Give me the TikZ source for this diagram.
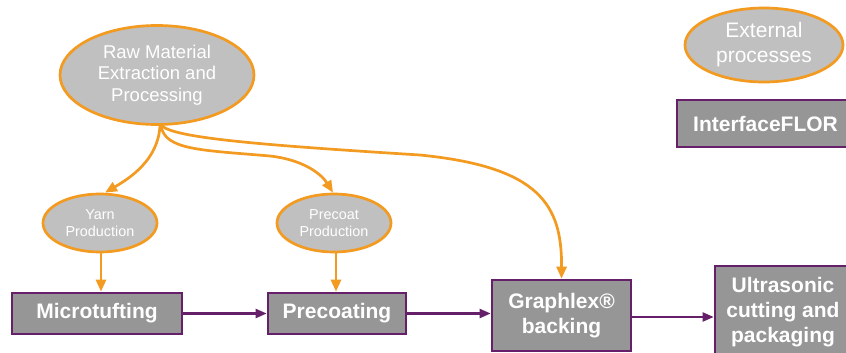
\documentclass[tikz,border=0pt]{standalone}
\usepackage{fontspec}
\setmainfont{Liberation Sans}
\usetikzlibrary{shapes.geometric,arrows.meta}
\definecolor{orng}{HTML}{F39A21}
\definecolor{purp}{HTML}{66206A}
\definecolor{elfill}{HTML}{C0C0C0}
\definecolor{boxfill}{HTML}{969696}
\tikzset{
  extproc/.style={ellipse, draw=orng, line width=2.7pt, fill=elfill, text=white, align=center, inner sep=0pt},
  procbox/.style={rectangle, draw=purp, line width=2.7pt, fill=boxfill, text=white, align=center, inner sep=0pt, font=\bfseries\fontsize{21}{25}\selectfont},
  oarrow/.style={draw=orng, line width=2.7pt, -{Triangle[length=12pt,width=10pt]}},
  parrow/.style={draw=purp, line width=2.2pt, -{Triangle[length=11pt,width=9pt]}}
}
\begin{document}
\begin{tikzpicture}[x=1pt,y=-1pt]
\clip (0,0) rectangle (846,353);
\fill[white] (0,0) rectangle (846,353);
% ellipses
\node[extproc, minimum width=194pt, minimum height=99pt, font=\fontsize{18.5}{21.7}\selectfont] (raw) at (157,75) {Raw Material\\Extraction and\\Processing};
\node[extproc, minimum width=158pt, minimum height=74pt, font=\fontsize{21}{25}\selectfont] (ext) at (764,45) {External\\processes};
\node[extproc, minimum width=114pt, minimum height=58pt, font=\fontsize{14.4}{16.7}\selectfont] (yarn) at (100,223) {Yarn\\Production};
\node[extproc, minimum width=114pt, minimum height=58pt, font=\fontsize{14.4}{16.7}\selectfont] (pcp) at (334,223) {Precoat\\Production};
% boxes
\node[procbox, minimum width=177pt, minimum height=47pt] (iflor) at (765.5,123.5) {InterfaceFLOR};
\node[procbox, minimum width=170pt, minimum height=41pt] (micro) at (97,313.5) {\raisebox{-1.5pt}{Microtufting}};
\node[procbox, minimum width=138pt, minimum height=41pt] (precoat) at (337,313.5) {\raisebox{-1.5pt}{Precoating}};
\node[procbox, minimum width=139pt, minimum height=71pt] (graph) at (561.5,315.5) {Graphlex®\\backing};
\node[procbox, minimum width=136pt, minimum height=92pt] (ultra) at (783,312) {Ultrasonic\\cutting and\\packaging};
% orange connectors
\draw[oarrow] ([xshift=3pt]raw.south) .. controls (158,160) and (130,178) .. ([xshift=5pt]yarn.north);
\draw[oarrow] ([xshift=4pt]raw.south) .. controls (165,150) and (200,150) .. (270,156) .. controls (305,160) and (322,175) .. ([xshift=-1pt]pcp.north);
\draw[oarrow] ([xshift=5pt]raw.south) .. controls (175,138) and (260,145) .. (420,155) .. controls (540,167) and (562,205) .. (graph.north);
\draw[oarrow] ([xshift=1pt]yarn.south) -- ([xshift=1pt]yarn.south |- micro.north);
\draw[oarrow] ([xshift=2pt]pcp.south) -- ([xshift=2pt]pcp.south |- precoat.north);
% purple connectors
\draw[parrow] (micro.east) -- (precoat.west);
\draw[parrow] (precoat.east) -- (precoat.east -| graph.west);
\draw[parrow] ([yshift=-1.5pt]graph.east) -- ([yshift=-1.5pt]graph.east -| ultra.west);
\end{tikzpicture}
\end{document}
